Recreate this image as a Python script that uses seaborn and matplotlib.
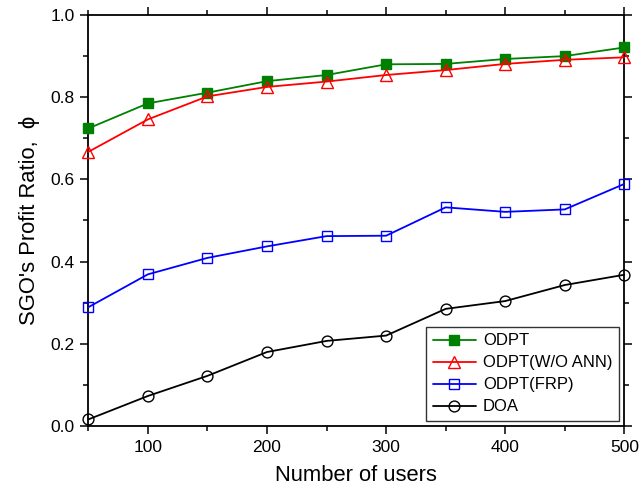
import matplotlib
matplotlib.use("Agg")
import matplotlib.pyplot as plt
from matplotlib.ticker import MultipleLocator, FormatStrFormatter
import numpy as np
import pandas as pd
import seaborn as sns

# Number of users on the x axis
users = [50, 100, 150, 200, 250, 300, 350, 400, 450, 500]

# Profit ratio of the SGO for each scheme
odpt = [0.724, 0.785, 0.811, 0.839, 0.854, 0.880, 0.881, 0.893, 0.900, 0.921]
odpt_wo_ann = [0.667, 0.746, 0.802, 0.825, 0.838, 0.854, 0.866, 0.881, 0.891, 0.897]
odpt_frp = [0.289, 0.369, 0.409, 0.437, 0.462, 0.463, 0.532, 0.521, 0.527, 0.589]
doa = [0.016, 0.073, 0.122, 0.180, 0.207, 0.220, 0.285, 0.304, 0.343, 0.368]

series_names = ["ODPT", "ODPT(W/O ANN)", "ODPT(FRP)", "DOA"]
series_values = [odpt, odpt_wo_ann, odpt_frp, doa]

rows = []
for name, vals in zip(series_names, series_values):
    for u, v in zip(users, vals):
        rows.append({"users": u, "ratio": v, "scheme": name})
df = pd.DataFrame(rows)

sns.set_theme(style="white")
plt.rcParams["font.family"] = ["Liberation Sans", "DejaVu Sans"]
plt.rcParams["text.color"] = "black"
plt.rcParams["axes.labelcolor"] = "black"
plt.rcParams["xtick.color"] = "black"
plt.rcParams["ytick.color"] = "black"

styles = {
    "ODPT": dict(color="#008000", marker="s", mfc="#008000", mec="#008000", ms=7.2),
    "ODPT(W/O ANN)": dict(color="#ff0000", marker="^", mfc="none", mec="#ff0000", ms=8.8),
    "ODPT(FRP)": dict(color="#0000ff", marker="s", mfc="none", mec="#0000ff", ms=7.2),
    "DOA": dict(color="#000000", marker="o", mfc="none", mec="#000000", ms=7.8),
}

fig = plt.figure(figsize=(6.41, 4.95), dpi=100)
ax = fig.add_axes([0.1378, 0.1394, 0.8362, 0.8303])

for name in series_names:
    st = styles[name]
    sns.lineplot(
        data=df[df["scheme"] == name], x="users", y="ratio", ax=ax,
        color=st["color"], marker=st["marker"], markersize=st["ms"],
        markerfacecolor=st["mfc"], markeredgecolor=st["mec"],
        markeredgewidth=1.0, linewidth=1.3, label=name,
        clip_on=False, zorder=3,
    )

ax.set_xlim(50, 500)
ax.set_ylim(0.0, 1.0)
ax.xaxis.set_major_locator(MultipleLocator(100))
ax.xaxis.set_minor_locator(MultipleLocator(50))
ax.yaxis.set_major_locator(MultipleLocator(0.2))
ax.yaxis.set_minor_locator(MultipleLocator(0.1))
ax.yaxis.set_major_formatter(FormatStrFormatter("%.1f"))

for sp in ax.spines.values():
    sp.set_visible(True)
    sp.set_color("black")
    sp.set_linewidth(1.3)

ax.tick_params(which="both", direction="out", top=True, right=True,
               bottom=True, left=True, labeltop=False, labelright=False,
               color="black", labelcolor="black", width=1.1)
ax.tick_params(which="major", length=6, labelsize=12.5, pad=4)
ax.tick_params(which="minor", length=3.8)

ax.set_xlabel("Number of users", fontsize=15.8, labelpad=7, color="black")
ax.set_ylabel("SGO's Profit Ratio,  ϕ", fontsize=15.8, labelpad=7, color="black")

leg = ax.legend(loc="lower right", bbox_to_anchor=(0.990, 0.012),
                borderaxespad=0, frameon=True, fancybox=False,
                edgecolor="black", fontsize=12, handlelength=2.6,
                handletextpad=0.4, labelspacing=0.42, borderpad=0.4)
leg.get_frame().set_linewidth(1.0)
for t in leg.get_texts():
    t.set_color("black")

fig.savefig("out.png", dpi=100)
